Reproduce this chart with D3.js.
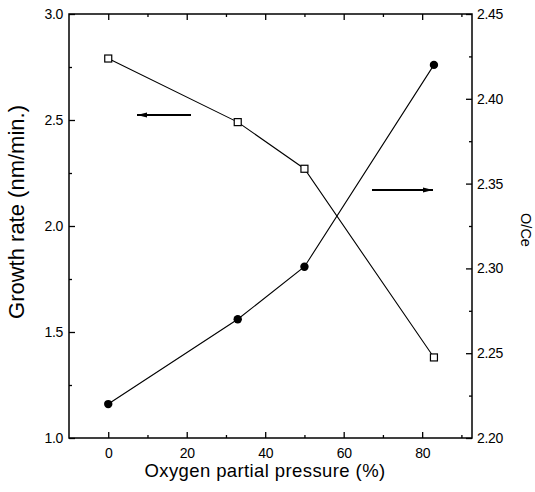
<!DOCTYPE html>
<html><head><meta charset="utf-8">
<script src="https://cdn.jsdelivr.net/npm/d3@7"></script>
<style>body{margin:0;background:#fff}text{font-family:"Liberation Sans",Arial,sans-serif;fill:#000}</style>
</head><body><svg id="c" width="535" height="492"></svg>
<script>
const pressure = [0, 33, 50, 83];
const growthRate = [2.79, 2.49, 2.27, 1.38];
const oce = [2.22, 2.27, 2.301, 2.42];
const xTicks = [0, 20, 40, 60, 80];
const yLeftTicks = [1.0, 1.5, 2.0, 2.5, 3.0];
const yRightTicks = [2.20, 2.25, 2.30, 2.35, 2.40, 2.45];

const svg = d3.select("#c");
const L = 69, R = 472, T = 14, B = 438;
const x = d3.scaleLinear().domain([-10, 92.7]).range([L, R]);
const yL = d3.scaleLinear().domain([1.0, 3.0]).range([B, T]);
const yR = d3.scaleLinear().domain([2.20, 2.45]).range([B, T]);

const g = svg.append("g");
g.append("rect").attr("x", L).attr("y", T).attr("width", R - L).attr("height", B - T)
  .attr("fill", "none").attr("stroke", "#000").attr("stroke-width", 1.5);

const xMinor = d3.range(-10, 93, 10).filter(v => !xTicks.includes(v) && v > -10);
g.append("g").attr("transform", `translate(0,${B})`)
  .call(d3.axisBottom(x).tickValues(xTicks).tickSize(-6).tickPadding(10).tickFormat(d3.format("d")));
g.append("g").attr("transform", `translate(0,${B})`).call(d3.axisBottom(x).tickValues(xMinor).tickSize(-3).tickFormat(""));
g.append("g").attr("transform", `translate(0,${T})`).call(d3.axisTop(x).tickValues(xTicks).tickSize(-6).tickFormat(""));
g.append("g").attr("transform", `translate(0,${T})`).call(d3.axisTop(x).tickValues(xMinor).tickSize(-3).tickFormat(""));
g.append("g").attr("transform", `translate(${L},0)`)
  .call(d3.axisLeft(yL).tickValues(yLeftTicks).tickSize(-6).tickPadding(6).tickFormat(d3.format(".1f")));
g.append("g").attr("transform", `translate(${L},0)`).call(d3.axisLeft(yL).tickValues([1.25, 1.75, 2.25, 2.75]).tickSize(-3).tickFormat(""));
g.append("g").attr("transform", `translate(${R},0)`)
  .call(d3.axisRight(yR).tickValues(yRightTicks).tickSize(-6).tickPadding(5).tickFormat(d3.format(".2f")));
g.append("g").attr("transform", `translate(${R},0)`).call(d3.axisRight(yR).tickValues([2.225, 2.275, 2.325, 2.375, 2.425]).tickSize(-3).tickFormat(""));

g.selectAll(".domain").remove();
g.selectAll(".tick line").attr("stroke", "#000").attr("stroke-width", 1.3);
g.selectAll(".tick text").style("font-size", "14px").style("letter-spacing", "-0.3px").attr("fill", "#000");

const lineL = d3.line().x((d, i) => x(pressure[i])).y(d => yL(d));
const lineR = d3.line().x((d, i) => x(pressure[i])).y(d => yR(d));
g.append("path").attr("d", lineL(growthRate)).attr("fill", "none").attr("stroke", "#000").attr("stroke-width", 1.1);
g.append("path").attr("d", lineR(oce)).attr("fill", "none").attr("stroke", "#000").attr("stroke-width", 1.1);

g.selectAll(".sq").data(growthRate).enter().append("rect")
  .attr("x", (d, i) => x(pressure[i]) - 3.5).attr("y", d => yL(d) - 3.5)
  .attr("width", 7).attr("height", 7).attr("fill", "#fff").attr("stroke", "#000").attr("stroke-width", 1.2);
g.selectAll(".ci").data(oce).enter().append("circle")
  .attr("cx", (d, i) => x(pressure[i])).attr("cy", d => yR(d)).attr("r", 4.2).attr("fill", "#000");

function arrow(x1, x2, y) {
  g.append("line").attr("x1", x1).attr("x2", x2).attr("y1", y).attr("y2", y).attr("stroke", "#000").attr("stroke-width", 1.8);
  const dir = Math.sign(x2 - x1);
  g.append("path").attr("d", `M${x2},${y} L${x2 - dir * 10},${y - 2.5} L${x2 - dir * 10},${y + 2.5} Z`).attr("fill", "#000");
}
arrow(191, 137, 115);
arrow(372, 433, 190);

svg.append("text").attr("x", 265).attr("y", 477).attr("text-anchor", "middle").style("font-size", "18.5px").style("letter-spacing", "0.4px").text("Oxygen partial pressure (%)");
svg.append("text").attr("transform", "translate(24,212) rotate(-90)").attr("text-anchor", "middle").style("font-size", "22px").text("Growth rate (nm/min.)");
svg.append("text").attr("transform", "translate(521,230) rotate(90)").attr("text-anchor", "middle").style("font-size", "14.5px").text("O/Ce");
</script></body></html>
